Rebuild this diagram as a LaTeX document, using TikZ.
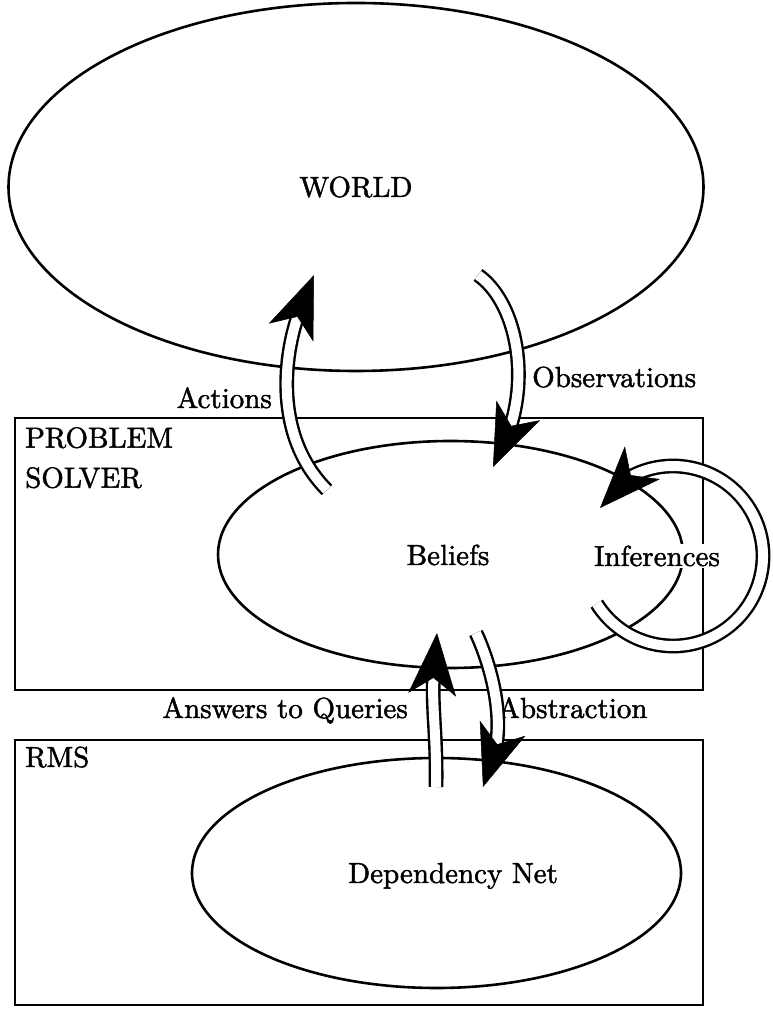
\documentclass[tikz,border=0pt]{standalone}
\usetikzlibrary{shapes.geometric,arrows.meta,calc}
\font\diagfont="[lmroman10-regular]:+tlig;embolden=1.6" at 29pt
\begin{document}
\begin{tikzpicture}[x=1pt,y=1pt,
  outline/.style={draw, line width=2.6pt, inner sep=0pt, outer sep=0pt},
  oval/.style={outline, ellipse},
  box/.style={outline, rectangle, anchor=south west},
  lbl/.style={font=\diagfont, inner sep=0pt},
  shaft/.style={draw=black, line width=2.4pt, double=white, double distance=10pt},
  headtip/.style={line width=0.5pt, -{Stealth[length=62pt,width=48pt,inset=17pt]}}]
\useasboundingbox (0,0) rectangle (773,1013);
% shapes
\node[oval, minimum width=695pt, minimum height=368pt] (world) at (356,826) {};
\node[box, minimum width=688pt, minimum height=272pt] (ps) at (15,323) {};
\node[oval, minimum width=465pt, minimum height=227pt] (beliefs) at (450.5,458.5) {};
\node[box, minimum width=688pt, minimum height=265pt] (rms) at (15,8) {};
\node[oval, minimum width=489pt, minimum height=230pt] (dep) at (436.5,140) {};
% texts
\node[lbl] (worldtxt) at (356,826) {WORLD};
\node[lbl, anchor=north west, align=left, font={\diagfont\baselineskip=40pt}] (pstxt) at (25,586) {PROBLEM\\SOLVER};
\node[lbl, anchor=base west] (rmstxt) at (25,246) {RMS};
\node[lbl, anchor=base] (beltxt) at (448,448) {Beliefs};
\node[lbl, anchor=base, fill=white, inner sep=2pt] (inftxt) at (657,447) {Inferences};
\node[lbl, anchor=base] (deptxt) at (453,130) {Dependency Net};
\node[lbl, anchor=base east] (acttxt) at (272,605) {Actions};
\node[lbl, anchor=base west] (obstxt) at (532,626) {Observations};
\node[lbl, anchor=base east] (anstxt) at (408,295) {Answers to Queries};
\node[lbl, anchor=base west] (abstxt) at (498,295) {Abstraction};
% arrow end points
\coordinate (a0) at (327,523); \coordinate (a1) at (300,703); \coordinate (aT) at (314,738);
\coordinate (o0) at (478,738); \coordinate (o1) at (508.5,580.7); \coordinate (oT) at (493,546);
\coordinate (q0) at (436,226); \coordinate (q1) at (434,342); \coordinate (qT) at (437,380);
\coordinate (b0) at (476,380); \coordinate (b1) at (495,262); \coordinate (bT) at (483,226);
\coordinate (i0) at (596.7,409.3); \coordinate (iT) at (600,505);
% shafts
\draw[shaft] (a0) .. controls (275,575) and (282,655) .. (a1);
\draw[shaft] (o0) .. controls (515,712) and (530,640) .. (o1);
\draw[shaft] (q0) .. controls (437,280) and (431,310) .. (q1);
\draw[shaft] (b0) .. controls (490,350) and (504,300) .. (b1);
\draw[shaft] (i0) arc[start angle=-148, end angle=120, radius=90] coordinate (i1);
% heads
\draw[headtip] ($(aT)!30pt!(a1)$) -- (aT);
\draw[headtip] ($(oT)!30pt!(o1)$) -- (oT);
\draw[headtip] ($(qT)!30pt!(q1)$) -- (qT);
\draw[headtip] ($(bT)!30pt!(b1)$) -- (bT);
\draw[headtip] ($(iT)!30pt!(i1)$) -- (iT);
\end{tikzpicture}
\end{document}
